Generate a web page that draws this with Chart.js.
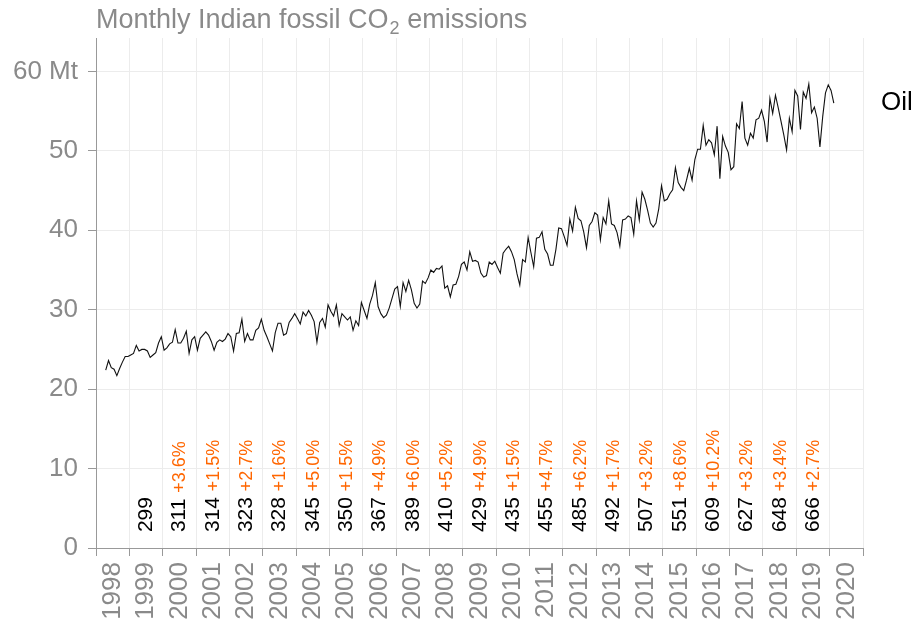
<!DOCTYPE html>
<html lang="en">
<head>
<meta charset="UTF-8" />
<title>Monthly Indian fossil CO2 emissions</title>
<style>
  body { margin: 0; background: #fff; }
  #wrap { width: 918px; height: 625px; }
</style>
</head>
<body>
<div id="wrap"><canvas id="oilChart" width="918" height="625"></canvas></div>
<script src="https://cdn.jsdelivr.net/npm/chart.js"></script>
<script>
  // monthly oil CO2 (Mt), first point = April 1998, last = Feb 2020
  const startYear = 1998;
  const startMonth = 4;
  const oilMonthly = [
    22.4, 23.6, 22.7, 22.5, 21.7, 22.6, 23.4, 24.1, 24.1,
    24.3, 24.5, 25.5, 24.8, 25.0, 25.0, 24.8, 24.0, 24.3, 24.6, 25.8, 26.6,
    24.9, 25.2, 25.7, 25.9, 27.5, 25.8, 25.8, 26.4, 27.3, 24.5, 26.2, 26.6,
    24.9, 26.4, 26.8, 27.2, 26.8, 26.0, 24.9, 25.9, 26.2, 26.0, 26.3, 27.0,
    26.6, 24.8, 27.0, 27.1, 28.8, 26.0, 27.0, 26.2, 26.2, 27.4, 27.7, 28.8,
    27.4, 26.6, 25.7, 24.8, 27.1, 28.3, 28.3, 26.8, 27.0, 28.4, 28.9, 29.5,
    28.9, 28.2, 29.7, 29.2, 29.9, 29.3, 28.5, 25.9, 28.4, 28.9, 27.8, 30.6,
    29.8, 29.2, 30.6, 28.0, 29.5, 29.1, 28.7, 29.1, 27.4, 28.6, 28.0, 30.9,
    29.9, 28.9, 30.7, 31.8, 33.4, 30.4, 29.5, 29.0, 29.3, 30.2, 31.4, 32.6,
    32.9, 30.4, 33.4, 32.3, 33.7, 32.5, 30.8, 30.2, 30.7, 33.6, 33.3, 34.0,
    35.0, 34.7, 35.2, 35.1, 35.5, 32.7, 33.0, 31.6, 33.1, 33.2, 34.2, 35.7,
    36.0, 35.0, 37.3, 36.1, 36.2, 36.0, 34.6, 34.1, 34.3, 36.0, 35.7, 36.1,
    35.3, 34.6, 37.1, 37.6, 38.0, 37.3, 36.3, 34.5, 33.1, 36.3, 36.0, 39.1,
    37.2, 35.4, 39.0, 39.1, 39.8, 37.6, 37.0, 35.6, 35.6, 37.6, 40.3, 40.2,
    39.2, 38.1, 41.4, 39.9, 42.9, 41.5, 41.2, 39.8, 37.8, 40.6, 41.1, 42.2,
    41.9, 38.8, 41.6, 40.8, 43.7, 40.8, 40.6, 39.7, 38.0, 41.3, 41.4, 41.8,
    41.6, 39.5, 43.7, 41.3, 44.8, 43.9, 42.5, 40.9, 40.4, 40.9, 42.7, 45.6,
    43.7, 43.9, 44.6, 45.1, 47.9, 46.0, 45.4, 45.0, 46.3, 47.8, 46.3, 48.9,
    50.2, 50.2, 53.2, 50.7, 51.4, 51.0, 49.5, 53.1, 46.5, 51.8, 50.6, 49.8,
    47.6, 48.0, 53.4, 52.8, 56.2, 51.6, 50.7, 52.2, 51.6, 53.9, 54.1, 55.1,
    53.7, 51.1, 56.6, 54.7, 57.0, 55.4, 53.7, 52.0, 50.1, 54.1, 52.4, 57.6,
    56.9, 52.7, 57.4, 56.6, 58.4, 54.8, 55.5, 54.1, 50.5, 54.3, 57.3, 58.3,
    57.6, 56.0
  ];

  const totalYears = [1999, 2000, 2001, 2002, 2003, 2004, 2005, 2006, 2007, 2008, 2009,
                      2010, 2011, 2012, 2013, 2014, 2015, 2016, 2017, 2018, 2019];
  const annualTotals = [299, 311, 314, 323, 328, 345, 350, 367, 389, 410, 429,
                        435, 455, 485, 492, 507, 551, 609, 627, 648, 666];
  const annualChange = ['', '+3.6%', '+1.5%', '+2.7%', '+1.6%', '+5.0%', '+1.5%', '+4.9%', '+6.0%', '+5.2%', '+4.9%',
                        '+1.5%', '+4.7%', '+6.2%', '+1.7%', '+3.2%', '+8.6%', '+10.2%', '+3.2%', '+3.4%', '+2.7%'];

  const yearTicks = [1998, 1999, 2000, 2001, 2002, 2003, 2004, 2005, 2006, 2007, 2008, 2009,
                     2010, 2011, 2012, 2013, 2014, 2015, 2016, 2017, 2018, 2019, 2020, 2021];
  const yTicks = [0, 10, 20, 30, 40, 50, 60];

  const FONT = "'Liberation Sans', Arial, Helvetica, sans-serif";
  const GREY = '#8a8a8a';
  const ORANGE = '#ff6600';

  const points = oilMonthly.map((v, i) => ({
    x: startYear + (startMonth - 1 + i + 0.5) / 12,
    y: v
  }));

  // title, series label and yearly annotations
  const overlay = {
    id: 'overlay',
    afterDraw(chart) {
      const ctx = chart.ctx;
      const xs = chart.scales.x, ys = chart.scales.y;
      const area = chart.chartArea;
      ctx.save();

      // title with subscript
      ctx.fillStyle = GREY;
      ctx.textBaseline = 'alphabetic';
      ctx.textAlign = 'left';
      ctx.font = '27px ' + FONT;
      let tx = area.left;
      ctx.fillText('Monthly Indian fossil CO', tx, 28);
      tx += ctx.measureText('Monthly Indian fossil CO').width;
      ctx.font = '18px ' + FONT;
      ctx.fillText('2', tx + 1, 34);
      tx += ctx.measureText('2').width + 1;
      ctx.font = '27px ' + FONT;
      ctx.fillText(' emissions', tx, 28);

      // series label
      const last = points[points.length - 1];
      ctx.fillStyle = '#000';
      ctx.font = '26px ' + FONT;
      ctx.fillText('Oil', area.right + 18, ys.getPixelForValue(last.y) + 7);

      // yearly totals + change
      totalYears.forEach((yr, i) => {
        const cx = xs.getPixelForValue(yr + 0.5) + 6;
        const cy = ys.getPixelForValue(2);
        ctx.save();
        ctx.translate(cx, cy);
        ctx.rotate(-Math.PI / 2);
        ctx.textAlign = 'left';
        ctx.textBaseline = 'alphabetic';
        ctx.font = '21px ' + FONT;
        ctx.fillStyle = '#000';
        const num = String(annualTotals[i]);
        ctx.fillText(num, 0, 0);
        if (annualChange[i]) {
          const w = ctx.measureText(num + ' ').width;
          ctx.font = '18px ' + FONT;
          ctx.fillStyle = ORANGE;
          ctx.fillText(annualChange[i], w, 0);
        }
        ctx.restore();
      });
      ctx.restore();
    }
  };

  Chart.defaults.font.family = FONT;

  new Chart(document.getElementById('oilChart'), {
    type: 'line',
    data: {
      datasets: [{
        label: 'Oil',
        data: points,
        borderColor: '#111',
        borderWidth: 1.1,
        pointRadius: 0,
        tension: 0,
        fill: false
      }]
    },
    options: {
      responsive: false,
      animation: false,
      layout: { padding: { left: 0, right: 55, top: 38, bottom: 0 } },
      plugins: { legend: { display: false }, tooltip: { enabled: false }, title: { display: false } },
      scales: {
        x: {
          type: 'linear',
          min: 1998,
          max: 2021,
          afterBuildTicks: s => { s.ticks = yearTicks.map(v => ({ value: v })); },
          afterFit: s => { s.height = 77; },
          ticks: {
            autoSkip: false,
            minRotation: 90,
            maxRotation: 90,
            color: GREY,
            padding: 6,
            labelOffset: 16.7,   // centre each year label in its interval
            font: { size: 26 },
            callback: v => (v <= 2020 ? String(v) : '')
          },
          grid: { color: '#ececec', tickColor: '#999', tickLength: 8 },
          border: { color: '#999' }
        },
        y: {
          min: 0,
          max: 64.2,
          afterBuildTicks: s => { s.ticks = yTicks.map(v => ({ value: v })); },
          afterFit: s => { s.width = 96; },
          ticks: {
            color: GREY,
            padding: 10,
            font: { size: 26 },
            callback: v => (v === 60 ? '60 Mt' : String(v))
          },
          grid: { color: '#ececec', tickColor: '#999', tickLength: 8 },
          border: { color: '#999' }
        }
      }
    },
    plugins: [overlay]
  });
</script>
</body>
</html>
